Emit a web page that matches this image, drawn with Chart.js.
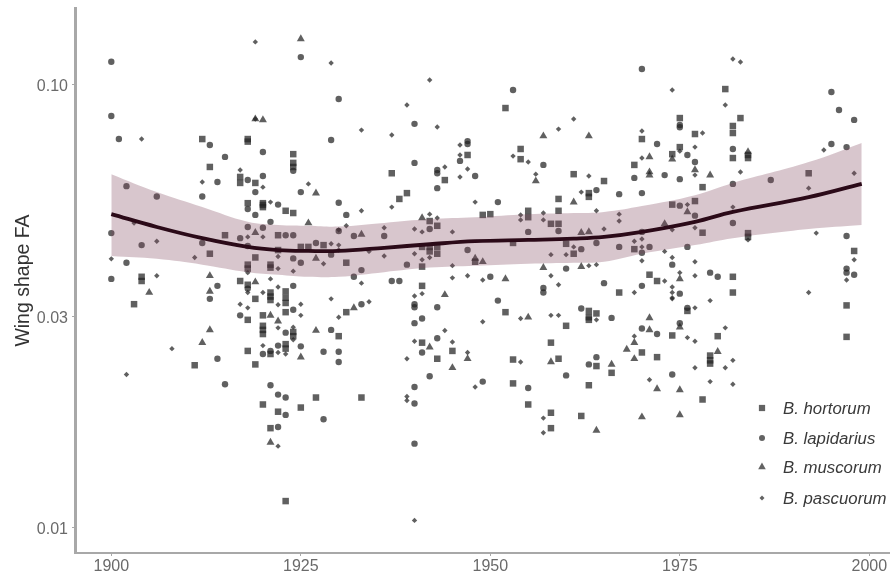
<!DOCTYPE html>
<html><head><meta charset="utf-8">
<style>html,body{margin:0;padding:0;background:#fff}#w{position:relative;width:890px;height:575px}canvas{filter:blur(0.55px)}</style>
<script src="https://cdn.jsdelivr.net/npm/chart.js@4"></script></head>
<body><div id="w"><canvas id="c" width="890" height="575"></canvas></div>
<script>
const seriesNames = ["B. hortorum","B. lapidarius","B. muscorum","B. pascuorum"];
const xTickValues = [1900,1925,1950,1975,2000];
const yTickValues = [0.01,0.03,0.10];
const hortorum = [[1912,.0755],[1913,.0653],[1917,.0620],[1917,.0601],[1918,.0755],[1918,.0745],[1919,.0601],[1920,.0541],[1924,.0698],[1924,.0667],[1924,.0653],[1920,.0536],[1920,.0530],[1923,.0520],[1924,.0514],[1915,.0458],[1922,.0458],[1913,.0416],[1919,.0408],[1918,.0541],[1922,.0424],[1925,.0431],[1926,.0431],[1928,.0435],[1918,.0393],[1918,.0385],[1921,.0393],[1921,.0387],[1904,.0369],[1904,.0361],[1917,.0361],[1918,.0354],[1921,.0340],[1921,.0333],[1921,.0327],[1923,.0342],[1923,.0331],[1923,.0322],[1919,.0329],[1903,.0320],[1918,.0295],[1920,.0302],[1923,.0307],[1920,.0286],[1920,.0280],[1920,.0274],[1924,.0277],[1924,.0271],[1930,.0271],[1918,.0251],[1921,.0247],[1923,.0260],[1923,.0254],[1911,.0233],[1919,.0234],[1920,.0190],[1925,.0187],[1927,.0197],[1922,.0183],[1921,.0168],[1923,.0115],
[1952,.0887],[1947,.0695],[1937,.0632],[1944,.0610],[1939,.0570],[1938,.0553],[1954,.0717],[1954,.0680],[1961,.0629],[1963,.0570],[1963,.0559],[1959,.0553],[1942,.0493],[1943,.0481],[1949,.0509],[1950,.0511],[1955,.0520],[1955,.0503],[1958,.0486],[1959,.0520],[1959,.0486],[1931,.0397],[1941,.0431],[1941,.0389],[1942,.0431],[1942,.0421],[1943,.0431],[1943,.0416],[1948,.0399],[1953,.0440],[1960,.0438],[1961,.0416],[1941,.0352],[1931,.0307],[1952,.0307],[1963,.0309],[1963,.0299],[1963,.0295],[1964,.0305],[1941,.0262],[1945,.0251],[1943,.0241],[1958,.0262],[1953,.0240],[1959,.0241],[1964,.0232],[1953,.0212],[1963,.0210],[1933,.0197],[1955,.0190],[1958,.0182],[1962,.0179],[1958,.0168],[1960,.0286],
[1981,.0979],[1983,.0842],[1982,.0808],[1982,.0779],[1975,.0842],[1977,.0775],[1970,.0755],[1975,.0724],[1982,.0684],[1984,.0695],[1984,.0684],[1974,.0698],[1969,.0660],[1965,.0607],[1978,.0588],[1992,.0632],[1974,.0537],[1977,.0547],[1978,.0464],[1969,.0426],[1984,.0463],[1984,.0454],[1998,.0422],[1971,.0373],[1982,.0369],[1972,.0361],[1967,.0340],[1982,.0340],[1997,.0318],[1976,.0309],[1974,.0272],[1980,.0271],[1997,.0270],[1970,.0249],[1972,.0243],[1979,.0245],[1979,.0239],[1979,.0235],[1966,.0224],[1978,.0195]];
const lapidarius = [[1900,.1128],[1900,.0851],[1901,.0755],[1902,.0591],[1906,.0560],[1913,.0732],[1915,.0688],[1914,.0604],[1912,.0560],[1918,.0610],[1920,.0623],[1919,.0573],[1920,.0706],[1924,.0640],[1925,.1156],[1930,.0930],[1929,.0751],[1925,.0573],[1922,.0537],[1918,.0525],[1919,.0509],[1921,.0491],[1918,.0478],[1920,.0476],[1917,.0451],[1923,.0458],[1924,.0458],[1900,.0463],[1912,.0440],[1904,.0435],[1902,.0397],[1918,.0433],[1924,.0406],[1925,.0397],[1927,.0440],[1929,.0414],[1900,.0365],[1924,.0352],[1914,.0352],[1918,.0347],[1913,.0329],[1917,.0302],[1924,.0311],[1929,.0280],[1923,.0276],[1914,.0241],[1920,.0247],[1921,.0251],[1922,.0258],[1925,.0257],[1928,.0250],[1930,.0250],[1930,.0237],[1915,.0211],[1921,.0210],[1922,.0200],[1923,.0197],[1923,.0180],[1928,.0176],[1922,.0169],
[1940,.0817],[1953,.0974],[1947,.0747],[1947,.0736],[1946,.0674],[1943,.0643],[1943,.0632],[1940,.0667],[1948,.0623],[1943,.0585],[1957,.0660],[1964,.0579],[1930,.0542],[1931,.0509],[1930,.0468],[1932,.0456],[1936,.0456],[1942,.0473],[1951,.0544],[1955,.0466],[1959,.0468],[1964,.0440],[1939,.0393],[1947,.0424],[1962,.0426],[1960,.0385],[1933,.0382],[1932,.0369],[1937,.0361],[1938,.0361],[1950,.0369],[1957,.0348],[1957,.0340],[1940,.0320],[1940,.0315],[1943,.0315],[1933,.0320],[1951,.0326],[1941,.0297],[1940,.0290],[1962,.0313],[1943,.0268],[1941,.0249],[1964,.0243],[1963,.0234],[1942,.0220],[1940,.0208],[1949,.0214],[1955,.0207],[1960,.0221],[1940,.0191],[1940,.0155],
[1970,.1087],[1975,.0812],[1975,.0803],[1972,.0736],[1982,.0717],[1976,.0695],[1977,.0670],[1969,.0617],[1973,.0626],[1975,.0613],[1967,.0567],[1970,.0570],[1982,.0598],[1987,.0610],[1995,.0964],[1996,.0878],[1998,.0834],[1995,.0736],[1997,.0724],[1975,.0534],[1977,.0507],[1982,.0488],[1970,.0466],[1967,.0431],[1971,.0431],[1970,.0418],[1976,.0431],[1974,.0393],[1997,.0456],[1997,.0385],[1997,.0377],[1998,.0373],[1979,.0377],[1980,.0369],[1965,.0357],[1970,.0352],[1975,.0338],[1976,.0314],[1966,.0298],[1970,.0282],[1972,.0274],[1975,.0290],[1974,.0222]];
const muscorum = [[1919,.0838],[1920,.0834],[1925,.1271],[1927,.0570],[1926,.0488],[1919,.0464],[1927,.0406],[1913,.0371],[1919,.0359],[1905,.0340],[1913,.0342],[1921,.0302],[1922,.0293],[1913,.0280],[1927,.0279],[1912,.0262],[1925,.0243],[1921,.0156],
[1957,.0767],[1963,.0767],[1956,.0607],[1961,.0544],[1941,.0501],[1933,.0460],[1962,.0464],[1963,.0466],[1948,.0406],[1949,.0399],[1957,.0387],[1962,.0389],[1952,.0365],[1944,.0336],[1932,.0314],[1955,.0299],[1942,.0256],[1947,.0241],[1958,.0237],[1945,.0230],[1964,.0166],
[1974,.0680],[1971,.0688],[1977,.0643],[1971,.0636],[1971,.0626],[1979,.0626],[1984,.0706],[1976,.0517],[1973,.0486],[1975,.0365],[1971,.0298],[1971,.0280],[1975,.0284],[1969,.0262],[1968,.0253],[1980,.0250],[1969,.0241],[1966,.0234],[1972,.0206],[1975,.0205],[1970,.0178],[1975,.0180]];
const pascuorum = [[1904,.0755],[1912,.0604],[1917,.0643],[1920,.0588],[1919,.1251],[1919,.0838],[1929,.1121],[1926,.0598],[1921,.0544],[1920,.0454],[1918,.0454],[1903,.0488],[1906,.0444],[1911,.0408],[1900,.0405],[1922,.0410],[1929,.0438],[1928,.0395],[1930,.0471],[1930,.0424],[1918,.0377],[1922,.0385],[1924,.0380],[1906,.0371],[1921,.0365],[1922,.0350],[1918,.0340],[1920,.0340],[1922,.0319],[1917,.0320],[1918,.0314],[1925,.0320],[1925,.0302],[1929,.0329],[1930,.0299],[1922,.0283],[1924,.0284],[1924,.0266],[1908,.0254],[1920,.0258],[1922,.0249],[1923,.0247],[1902,.0222],[1922,.0153],
[1942,.1026],[1939,.0901],[1943,.0804],[1933,.0791],[1937,.0771],[1946,.0732],[1946,.0695],[1944,.0653],[1947,.0646],[1946,.0620],[1953,.0691],[1955,.0670],[1956,.0629],[1963,.0623],[1962,.0573],[1961,.0838],[1959,.0795],[1933,.0520],[1937,.0530],[1931,.0481],[1936,.0476],[1940,.0473],[1942,.0511],[1943,.0501],[1941,.0466],[1945,.0466],[1948,.0544],[1954,.0509],[1954,.0496],[1957,.0514],[1957,.0496],[1964,.0520],[1930,.0435],[1934,.0421],[1936,.0411],[1940,.0416],[1941,.0403],[1942,.0408],[1945,.0391],[1958,.0414],[1960,.0414],[1961,.0431],[1963,.0391],[1964,.0393],[1933,.0357],[1945,.0367],[1947,.0371],[1949,.0363],[1958,.0371],[1959,.0354],[1940,.0334],[1941,.0338],[1934,.0324],[1949,.0292],[1954,.0297],[1958,.0302],[1959,.0302],[1964,.0295],[1944,.0279],[1940,.0264],[1945,.0263],[1939,.0241],[1947,.0249],[1954,.0237],[1948,.0208],[1939,.0198],[1939,.0194],[1957,.0177],[1957,.0164],[1940,.0104],
[1974,.0974],[1982,.1145],[1983,.1127],[1981,.0901],[1978,.0779],[1970,.0787],[1977,.0724],[1975,.0709],[1970,.0684],[1977,.0626],[1983,.0636],[1992,.0585],[1994,.0713],[1998,.0632],[1976,.0537],[1982,.0530],[1967,.0511],[1967,.0493],[1965,.0473],[1974,.0471],[1977,.0476],[1970,.0449],[1969,.0444],[1970,.0431],[1970,.0401],[1973,.0421],[1974,.0408],[1977,.0399],[1984,.0447],[1993,.0463],[1998,.0403],[1997,.0363],[1975,.0377],[1977,.0371],[1973,.0361],[1969,.0340],[1974,.0350],[1974,.0340],[1974,.0331],[1974,.0329],[1992,.0340],[1977,.0314],[1979,.0326],[1976,.0269],[1977,.0264],[1981,.0283],[1969,.0271],[1982,.0239],[1977,.0230],[1981,.0230],[1971,.0216],[1979,.0214],[1982,.0211]];
const fitYears = [1900,1906,1912,1918,1922,1926,1930,1936,1942,1948,1955,1961,1965,1970,1977,1982,1992,1999];
const fitValues = [.0511,.0478,.0451,.0431,.0424,.0422,.0422,.0429,.0437,.0444,.0447,.0450,.0454,.0466,.0491,.0517,.0558,.0598];
const fitUpper = [.0629,.0573,.0530,.0491,.0483,.0481,.0479,.0488,.0498,.0503,.0511,.0514,.0517,.0533,.0564,.0601,.0670,.0740];
const fitLower = [.0411,.0405,.0393,.0378,.0373,.0369,.0369,.0378,.0387,.0391,.0395,.0397,.0399,.0416,.0435,.0451,.0473,.0483];

const toPts = a => a.map(p => ({x:p[0], y:p[1]}));
const fitPts = v => fitYears.map((x,i) => ({x, y:v[i]}));
const ink = "rgba(35,35,35,0.72)";
const markers = [
  {style:"rect", radius:4.6},
  {style:"circle", radius:3.2},
  {style:"triangle", radius:4.6},
  {style:"rectRot", radius:2.7}
];
const scatter = (i,data) => ({type:"scatter", label:seriesNames[i], data:toPts(data), order:5,
  pointStyle:markers[i].style, pointRadius:markers[i].radius, pointBackgroundColor:ink, pointBorderWidth:0, showLine:false});
const legendPlugin = {
  id:"insideLegend",
  afterDraw(chart){
    const ctx = chart.ctx, rows = [408,438,467,498];
    ctx.save();
    seriesNames.forEach((name,i) => {
      ctx.fillStyle = "rgba(60,60,60,0.8)";
      Chart.helpers.drawPoint(ctx,{pointStyle:markers[i].style, radius:markers[i].radius-0.2, borderWidth:0}, 762, rows[i]);
      ctx.fillStyle = "#3a3a3a";
      ctx.font = "italic 16.8px 'Liberation Sans'";
      ctx.textAlign = "left"; ctx.textBaseline = "middle";
      ctx.fillText(name, 783, rows[i]+1);
    });
    ctx.restore();
  }
};
new Chart(document.getElementById("c"),{
  data:{datasets:[
    scatter(0,hortorum),scatter(1,lapidarius),scatter(2,muscorum),scatter(3,pascuorum),
    {type:"line",label:"upper",data:fitPts(fitUpper),pointRadius:0,borderWidth:0,tension:0.4,fill:false,order:3},
    {type:"line",label:"lower",data:fitPts(fitLower),pointRadius:0,borderWidth:0,tension:0.4,fill:"-1",backgroundColor:"rgba(125,65,90,0.3)",order:3},
    {type:"line",label:"fit",data:fitPts(fitValues),pointRadius:0,borderWidth:3.8,borderColor:"#2b0a18",tension:0.4,fill:false,order:1}
  ]},
  options:{
    responsive:false, animation:false,
    layout:{autoPadding:false,padding:{left:0,right:0,top:8,bottom:0}},
    plugins:{legend:{display:false},tooltip:{enabled:false},filler:{propagate:false}},
    scales:{
      x:{type:"linear",min:1895.21,max:2002.73,
        afterBuildTicks:s=>{s.ticks=xTickValues.map(v=>({value:v}));},
        afterFit:s=>{s.height=22;s.paddingLeft=0;s.paddingRight=0;},
        border:{color:"#a8a8a8",width:2},
        grid:{drawOnChartArea:false,tickLength:3,tickColor:"#a8a8a8",tickWidth:1},
        ticks:{color:"#6a6a6a",padding:1,maxRotation:0,font:{family:"'Liberation Sans'",size:16},callback:v=>String(v)}},
      y:{type:"logarithmic",min:0.00878,max:0.1492,
        afterBuildTicks:s=>{s.ticks=yTickValues.map(v=>({value:v}));},
        afterFit:s=>{s.width=75;s.paddingTop=0;s.paddingBottom=0;},
        border:{color:"#a8a8a8",width:3},
        grid:{drawOnChartArea:false,tickLength:3,tickColor:"#a8a8a8",tickWidth:1},
        title:{display:true,text:"Wing shape FA",color:"#333",padding:{top:12.4,bottom:0},font:{family:"'Liberation Sans'",size:19.5}},
        ticks:{color:"#6a6a6a",padding:4,labelOffset:2,font:{family:"'Liberation Sans'",size:16},callback:v=>Number(v).toFixed(2)}}
    }
  },
  plugins:[legendPlugin]
});
</script></body></html>
